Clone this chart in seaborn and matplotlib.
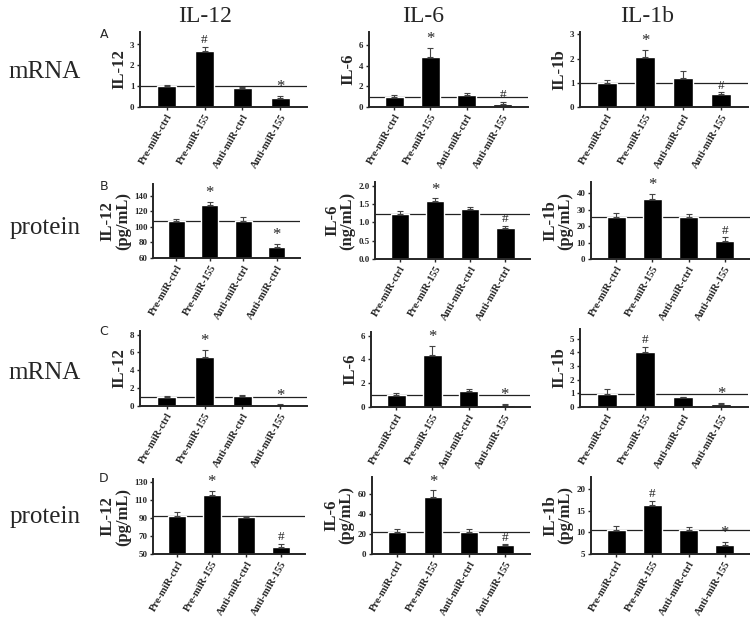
import numpy as np
import pandas as pd
import matplotlib
matplotlib.use("Agg")
import matplotlib.pyplot as plt
import seaborn as sns

# categories
groups = ["Pre-miR-ctrl", "Pre-miR-155", "Anti-miR-ctrl", "Anti-miR-155"]
labels_typo = ["Pre-miR-ctrl", "Pre-miR-155", "Anti-miR-ctrl", "Anti-miR-ctrl"]
col_titles = ["IL-12", "IL-6", "IL-1b"]
row_titles = ["mRNA", "protein", "mRNA", "protein"]
panel_letters = ["A", "B", "C", "D"]

# row A (mRNA)
a_il12 = [1.0, 2.69, 0.9, 0.42]
a_il12_err = [0.04, 0.2, 0.05, 0.12]
a_il6 = [0.97, 4.84, 1.16, 0.32]
a_il6_err = [0.23, 0.93, 0.19, 0.16]
a_il1b = [1.0, 2.08, 1.2, 0.53]
a_il1b_err = [0.12, 0.28, 0.3, 0.07]

# row B (protein)
b_il12 = [107.2, 127.7, 107.0, 73.6]
b_il12_err = [2.8, 4.3, 5.8, 4.4]
b_il6 = [1.22, 1.59, 1.35, 0.85]
b_il6_err = [0.09, 0.06, 0.06, 0.05]
b_il1b = [25.9, 36.9, 25.5, 11.2]
b_il1b_err = [2.1, 2.7, 1.8, 2.1]

# row C (mRNA)
c_il12 = [1.0, 5.5, 1.12, 0.15]
c_il12_err = [0.08, 0.8, 0.15, 0.05]
c_il6 = [0.99, 4.37, 1.35, 0.2]
c_il6_err = [0.19, 0.76, 0.2, 0.05]
c_il1b = [0.98, 4.0, 0.71, 0.24]
c_il1b_err = [0.34, 0.4, 0.04, 0.04]

# row D (protein)
d_il12 = [92.2, 115.5, 90.4, 58.1]
d_il12_err = [4.1, 4.1, 1.5, 3.0]
d_il6 = [21.7, 57.3, 21.7, 8.7]
d_il6_err = [3.6, 6.4, 3.0, 1.0]
d_il1b = [10.6, 16.4, 10.6, 7.2]
d_il1b_err = [1.0, 0.9, 0.7, 0.7]

# significance marks (Pre-miR-155, Anti-miR-155)
marks = [
    [("#", "*"), ("*", "#"), ("*", "#")],
    [("*", "*"), ("*", "#"), ("*", "#")],
    [("*", "*"), ("*", "*"), ("#", "*")],
    [("*", "#"), ("*", "#"), ("#", "*")],
]

ylabels = [
    ["IL-12", "IL-6", "IL-1b"],
    ["IL-12\n(pg/mL)", "IL-6\n(ng/mL)", "IL-1b\n(pg/mL)"],
    ["IL-12", "IL-6", "IL-1b"],
    ["IL-12\n(pg/mL)", "IL-6\n(pg/mL)", "IL-1b\n(pg/mL)"],
]
yticks = [
    [[0, 1, 2, 3], [0, 2, 4, 6], [0, 1, 2, 3]],
    [[60, 80, 100, 120, 140], [0, 0.5, 1.0, 1.5, 2.0], [0, 10, 20, 30, 40]],
    [[0, 2, 4, 6, 8], [0, 2, 4, 6], [0, 1, 2, 3, 4, 5]],
    [[50, 70, 90, 110, 130], [0, 20, 40, 60], [5, 10, 15, 20]],
]
ylims = [
    [(0, 3.6), (0, 7.3), (0, 3.1)],
    [(60, 155), (0, 2.1), (0, 47)],
    [(0, 8.4), (0, 6.3), (0, 5.7)],
    [(50, 133), (0, 77), (5, 22.9)],
]

values = [
    [(a_il12, a_il12_err), (a_il6, a_il6_err), (a_il1b, a_il1b_err)],
    [(b_il12, b_il12_err), (b_il6, b_il6_err), (b_il1b, b_il1b_err)],
    [(c_il12, c_il12_err), (c_il6, c_il6_err), (c_il1b, c_il1b_err)],
    [(d_il12, d_il12_err), (d_il6, d_il6_err), (d_il1b, d_il1b_err)],
]
tick_labels = [
    [groups, groups, groups],
    [labels_typo, labels_typo, groups],
    [groups, groups, groups],
    [groups, groups, groups],
]

sns.set_style("ticks")
plt.rcParams['font.family'] = ['Liberation Serif', 'DejaVu Serif']

W, H = 750, 618
fig = plt.figure(figsize=(7.5, 6.18), dpi=100)

# pixel boxes: (left, top, right, bottom)
boxes = [
    [(140, 32, 307, 107), (369, 32, 528, 107), (580, 32, 748, 107)],
    [(153, 184, 300, 258), (375, 182, 530, 259), (591, 182, 750, 259)],
    [(140, 331, 307, 406), (371, 332, 530, 407), (580, 329, 748, 407)],
    [(153, 479, 305, 554), (372, 477, 530, 554), (591, 477, 750, 554)],
]

for r in range(4):
    for c in range(3):
        l, t, rr, b = boxes[r][c]
        ax = fig.add_axes([l / W, 1 - b / H, (rr - l) / W, (b - t) / H])
        vals, errs = values[r][c]
        df = pd.DataFrame({"group": groups, "value": vals})
        sns.barplot(data=df, x="group", y="value", order=groups, color="black",
                    width=0.52, errorbar=None, saturation=1, ax=ax)
        ax.errorbar(range(4), vals, yerr=[[0] * 4, errs], fmt="none",
                    ecolor="#444444", elinewidth=0.8, capsize=2.5, capthick=0.8)
        ax.axhline(vals[0], color="#222222", lw=0.9, zorder=0.5)
        ax.set_xlim(-0.7, 3.7)
        ax.set_ylim(*ylims[r][c])
        ax.set_yticks(yticks[r][c])
        if r == 1 and c == 1:
            ax.set_yticklabels([f"{v:.1f}" for v in yticks[r][c]])
        ax.set_xticks(range(4))
        ax.set_xticklabels(tick_labels[r][c], rotation=60, ha="right",
                           rotation_mode="anchor", fontsize=7.5, fontweight="bold")
        for lab in ax.get_yticklabels():
            lab.set_fontsize(6.5)
            lab.set_fontweight("bold")
        ax.tick_params(axis="both", length=2.5, width=1, pad=1.5)
        ax.set_xlabel("")
        ax.set_ylabel(ylabels[r][c], fontsize=12, fontweight="bold", labelpad=2,
                      linespacing=0.95)
        for s in ["left", "bottom"]:
            ax.spines[s].set_linewidth(1.4)
        sns.despine(ax=ax)
        # significance marks
        for i, m in zip([1, 3], marks[r][c]):
            ax.annotate(m, (i, vals[i] + errs[i]), xytext=(0, 0.5),
                        textcoords="offset points", ha="center", va="bottom",
                        fontsize=12 if m == "*" else 9.5)

# column titles
for x, title in zip([205, 423, 647], col_titles):
    fig.text(x / W, 1 - 17 / H, title, ha="center", va="center", fontsize=17)

# row titles
for y, title in zip([72, 228, 373, 517], row_titles):
    fig.text(45 / W, 1 - y / H, title, ha="center", va="center", fontsize=18)

# panel letters
for y, letter in zip([34, 186, 332, 479], panel_letters):
    fig.text(104 / W, 1 - y / H, letter, ha="center", va="center", fontsize=9,
             family="DejaVu Sans")

fig.savefig("out.png", dpi=100)
